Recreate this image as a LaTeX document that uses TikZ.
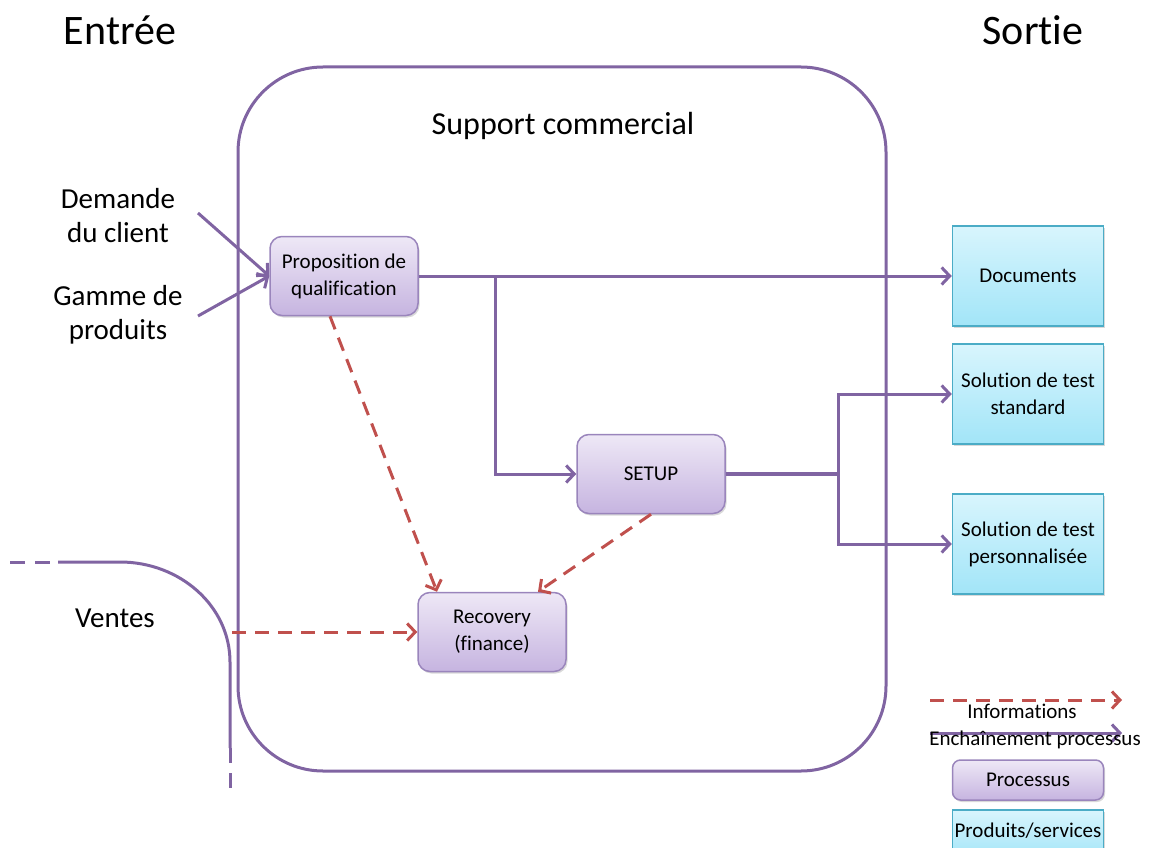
\documentclass[tikz,border=0pt]{standalone}
\usepackage{fontspec}
\setmainfont[Ligatures={NoCommon}]{Carlito}
\usetikzlibrary{arrows.meta,shadows,positioning}
\definecolor{purp}{HTML}{8064A2}
\definecolor{redd}{HTML}{C0504D}
\definecolor{ptop}{HTML}{EEE8F6}
\definecolor{pbot}{HTML}{C6B4E0}
\definecolor{btop}{HTML}{D8F5FD}
\definecolor{bbot}{HTML}{A2E5F8}
\definecolor{bbord}{HTML}{4BACC6}
\definecolor{pbord}{HTML}{9A85BC}
\tikzset{
  >={Straight Barb[length=8pt,width=17pt]},
  proc/.style={draw=pbord, line width=1.5pt, rounded corners=12pt, top color=ptop, bottom color=pbot,
    minimum width=148pt, minimum height=79pt, align=center, inner sep=2pt,
    font=\fontsize{21}{27}\selectfont,
    drop shadow={shadow xshift=1.5pt, shadow yshift=-2pt, opacity=0.3}},
  prod/.style={draw=bbord, line width=1.5pt, top color=btop, bottom color=bbot,
    minimum width=151pt, minimum height=100pt, align=center, inner sep=2pt,
    font=\fontsize{21}{27}\selectfont,
    drop shadow={shadow xshift=1.5pt, shadow yshift=-2pt, opacity=0.3}},
  flow/.style={draw=purp, line width=3pt, ->},
  info/.style={draw=redd, line width=3pt, dash pattern=on 14pt off 9pt, ->},
  big/.style={font=\fontsize{42}{48}\selectfont},
  mid/.style={font=\fontsize{29}{34}\selectfont, align=center},
  leg/.style={font=\fontsize{21}{24}\selectfont},
}
\begin{document}
\begin{tikzpicture}[x=1pt,y=-1pt]
\useasboundingbox (0,0) rectangle (1149,848);
% titles
\node[big] (entree) at (120,30) {Entrée};
\node[big] (sortie) at (1033,30) {Sortie};
% big container
\draw[purp, line width=3pt, rounded corners=85pt] (238,67) rectangle (886,771);
\node[font=\fontsize{32}{38}\selectfont] (support) at (563,126) {Support commercial};
% Ventes boundary
\draw[purp, line width=3pt, dash pattern=on 15pt off 10pt] (10,562) -- (58,562);
\draw[purp, line width=3pt] (58,562) -- (120,562) .. controls (180,562) and (230,606) .. (230,662) -- (230,748);
\draw[purp, line width=3pt, dash pattern=on 15pt off 10pt] (230,748) -- (230,792);
\node[mid] (ventes) at (115,618) {Ventes};
% inputs
\node[mid] (demande) at (118,216) {Demande\\du client};
\node[mid] (gamme) at (118,315) {Gamme de\\produits};
% process nodes
\node[proc] (prop) at (344,276) {Proposition de\\qualification};
\node[proc] (setup) at (651,474) {SETUP};
\node[proc] (recov) at (492,632) {Recovery\\(finance)};
% product nodes
\node[prod] (docs) at (1028,276) {Documents};
\node[prod] (sstd) at (1028,394) {Solution de test\\standard};
\node[prod] (sper) at (1028,544) {Solution de test\\personnalisée};
% input arrows
\coordinate (dstart) at (198,213);
\coordinate (gstart) at (198,316);
\draw[flow] (dstart) -- (prop.west);
\draw[flow] (gstart) -- (prop.west);
% flows
\draw[flow] (prop.east) -- (docs.west);
\coordinate (br1) at (495,276);
\draw[flow] (br1) |- (setup.west);
\coordinate (br2) at (838,474);
\draw[purp, line width=3.5pt] (setup.east) -- (br2);
\draw[flow] (br2) |- (sstd.west);
\draw[flow] (br2) |- (sper.west);
% info arrows
\draw[info] ([xshift=-14pt]prop.south) -- ([xshift=-55pt]recov.north);
\draw[info] (setup.south) -- ([xshift=46pt]recov.north);
\coordinate (vstart) at (232,632);
\draw[info] (vstart) -- (recov.west);
% legend
\coordinate (l1a) at (930,700); \coordinate (l1b) at (1122,700);
\coordinate (l2a) at (930,733); \coordinate (l2b) at (1122,733);
\draw[info] (l1a) -- (l1b);
\draw[flow] (l2a) -- (l2b);
\node[leg] (linfo) at (1022,711) {Informations};
\node[leg] (lench) at (1035,740) {Enchaînement processus};
\node[proc, minimum height=40pt, minimum width=151pt, rounded corners=8pt] (lproc) at (1028,780) {Processus};
\node[prod, minimum height=50pt] (lprod) at (1028,835) {};
\node[leg] (lprodt) at (1028,831) {Produits/services};
\end{tikzpicture}
\end{document}
